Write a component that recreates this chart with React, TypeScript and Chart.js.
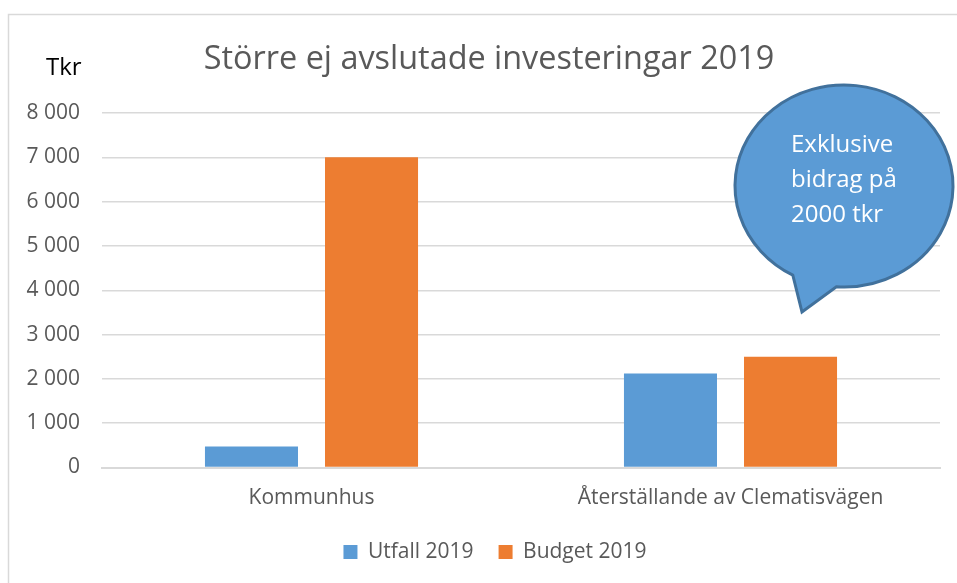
import React, { useEffect, useRef } from "react";
import { Chart, registerables } from "chart.js";

Chart.register(...registerables);

const categories = ["Kommunhus", "Återställande av Clematisvägen"];
const utfall2019 = [475, 2120];
const budget2019 = [7000, 2500];
const seriesLabels = ["Utfall 2019", "Budget 2019"];
const yTicks = [0, 1000, 2000, 3000, 4000, 5000, 6000, 7000, 8000];
const titleText = "Större ej avslutade investeringar 2019";
const unitText = "Tkr";
const calloutLines = ["Exklusive", "bidrag på", "2000 tkr"];

const fmt = (v: number) => {
  const s = String(Math.round(v));
  return s.replace(/\B(?=(\d{3})+(?!\d))/g, " ");
};

const decorPlugin = {
  id: "decor",
  afterLayout(chart: any) {
    if (chart.legend) {
      chart.legend.left += 25;
      chart.legend.right += 25;
    }
  },
  beforeDraw(chart: any) {
    const ctx = chart.ctx;
    ctx.save();
    ctx.fillStyle = "#ffffff";
    ctx.fillRect(0, 0, chart.width, chart.height);
    ctx.strokeStyle = "#D9D9D9";
    ctx.lineWidth = 1.5;
    ctx.beginPath();
    ctx.moveTo(8.5, chart.height + 2);
    ctx.lineTo(8.5, 14.5);
    ctx.lineTo(chart.width + 2, 14.5);
    ctx.stroke();
    // title
    ctx.fillStyle = "#595959";
    ctx.font = "400 32.4px 'Open Sans'";
    ctx.textAlign = "center";
    ctx.textBaseline = "alphabetic";
    ctx.fillText(titleText, 489, 69);
    // unit
    ctx.fillStyle = "#000000";
    ctx.font = "24px 'Open Sans'";
    ctx.textAlign = "left";
    ctx.fillText(unitText, 46, 75);
    ctx.restore();
  },
  afterDraw(chart: any) {
    const ctx = chart.ctx;
    ctx.save();
    const cx = 844, cy = 186, rx = 109, ry = 101;
    ctx.beginPath();
    const aStart = (118 / 180) * Math.PI;
    const aEnd = (94 / 180) * Math.PI + 2 * Math.PI;
    ctx.ellipse(cx, cy, rx, ry, 0, aStart, aEnd, false);
    ctx.lineTo(802, 312);
    ctx.closePath();
    ctx.fillStyle = "#5B9BD5";
    ctx.fill();
    ctx.strokeStyle = "#41719C";
    ctx.lineWidth = 3;
    ctx.lineJoin = "miter";
    ctx.stroke();
    ctx.fillStyle = "#ffffff";
    ctx.font = "24px 'Open Sans'";
    ctx.textAlign = "left";
    ctx.textBaseline = "alphabetic";
    calloutLines.forEach((t, i) => ctx.fillText(t, 791, 152 + i * 35));
    ctx.restore();
  },
};

export default function App() {
  const ref = useRef<HTMLCanvasElement | null>(null);
  useEffect(() => {
    document.body.style.margin = "0";
    const chart = new Chart(ref.current as HTMLCanvasElement, {
      type: "bar",
      data: {
        labels: categories,
        datasets: [
          {
            label: seriesLabels[0],
            data: utfall2019,
            backgroundColor: "#5B9BD5",
            borderColor: "#5B9BD5",
            borderWidth: 0,
          },
          {
            label: seriesLabels[1],
            data: budget2019,
            backgroundColor: "#ED7D31",
            borderColor: "#ED7D31",
            borderWidth: 0,
          },
        ],
      },
      options: {
        animation: false,
        responsive: false,
        devicePixelRatio: 1,
        layout: { padding: { top: 113, left: 0, right: 17, bottom: 10.5 } },
        datasets: {
          bar: { categoryPercentage: 0.573, barPercentage: 0.775 },
        },
        plugins: {
          title: { display: false },
          tooltip: { enabled: false },
          legend: {
            display: true,
            position: "bottom",
            labels: {
              boxWidth: 14,
              boxHeight: 14,
              color: "#595959",
              font: { family: "'Open Sans'", size: 21 },
              padding: 25,
            },
          },
        },
        scales: {
          x: {
            grid: { display: false, drawTicks: false },
            border: { color: "#D9D9D9", width: 2 },
            ticks: {
              color: "#595959",
              font: { family: "'Open Sans'", size: 21 },
              padding: 18,
            },
            afterFit(scale: any) {
              scale.height = 49;
            },
          },
          y: {
            min: 0,
            max: 8000,
            afterBuildTicks(scale: any) {
              scale.ticks = yTicks.map((v) => ({ value: v }));
            },
            grid: { color: "#D9D9D9", lineWidth: 1.5, drawTicks: false },
            border: { display: false },
            ticks: {
              color: "#595959",
              font: { family: "'Open Sans'", size: 21 },
              padding: 22,
              callback: (v: any) => fmt(Number(v)),
            },
            afterFit(scale: any) {
              scale.width = 102;
            },
          },
        },
      },
      plugins: [decorPlugin],
    } as any);
    return () => chart.destroy();
  }, []);
  return <canvas ref={ref} width={957} height={583} style={{ display: "block" }} />;
}
